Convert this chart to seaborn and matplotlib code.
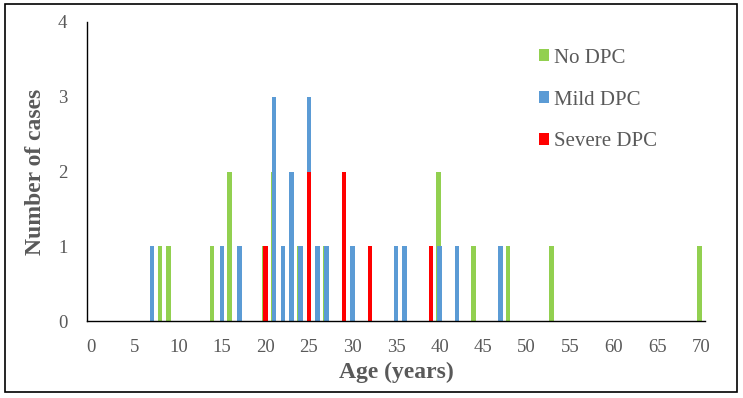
import numpy as np
import pandas as pd
import seaborn as sns
from matplotlib import pyplot as plt
from matplotlib.patches import Patch, Rectangle

# Age (years) of every case, one entry per case
no_dpc = [8, 9, 14, 16, 16, 20, 21, 21, 24, 27, 40, 40, 44, 48, 53, 70]
mild_dpc = [7, 15, 17, 21, 21, 21, 22, 23, 23, 24, 25, 25, 25, 26, 27, 30, 35, 36, 40, 42, 47]
severe_dpc = [20, 25, 25, 29, 29, 32, 39]

groups = ["No DPC", "Mild DPC", "Severe DPC"]
colors = ["#92D050", "#5B9BD5", "#FF0000"]
shift = [0.38, 0.5, 0.52]  # where the bar sits inside its one-year category
x_ticks = list(range(0, 71, 5))
y_ticks = [0, 1, 2, 3, 4]

sns.set_style("white")
plt.rcParams["font.family"] = ["Liberation Serif", "DejaVu Serif"]
text_col = "#595959"

fig = plt.figure(figsize=(7.43, 3.98), dpi=100)
ax = fig.add_axes([0.117, 0.193, 0.832, 0.752])

for ages, name, col, s in zip([no_dpc, mild_dpc, severe_dpc], groups, colors, shift):
    df = pd.DataFrame({"age": np.array(ages) + s})
    sns.histplot(data=df, x="age", discrete=True, shrink=0.52, color=col,
                 alpha=1, linewidth=0, ax=ax)

ax.set_xlim(0, 71)
ax.set_ylim(0, 4)
ax.set_yticks(y_ticks)
ax.set_yticklabels([str(v) for v in y_ticks])
# tick marks on category edges, labels in the middle of the category
ax.set_xticks(x_ticks)
ax.set_xticklabels([])
ax.set_xticks(np.array(x_ticks) + 0.5, labels=[str(v) for v in x_ticks], minor=True)
ax.tick_params(axis="x", which="minor", length=0, labelsize=13.5, labelcolor=text_col, pad=13)
ax.tick_params(axis="x", which="major", length=5, width=1, color="black", direction="out")
ax.tick_params(axis="y", length=5, width=1, color="black", direction="out",
               labelsize=13.5, labelcolor=text_col, pad=9)

sns.despine(ax=ax)
for sp in ["left", "bottom"]:
    ax.spines[sp].set_color("black")
    ax.spines[sp].set_linewidth(1)

ax.set_xlabel("Age (years)", fontsize=17, fontweight="bold", color=text_col, labelpad=4)
ax.set_ylabel("Number of cases", fontsize=17, fontweight="bold", color=text_col, labelpad=9)

handles = [Patch(facecolor=c, edgecolor="none", label=g) for c, g in zip(colors, groups)]
leg = fig.legend(handles=handles, loc="upper left", bbox_to_anchor=(0.7, 0.925),
                 frameon=False, fontsize=15, handlelength=0.5, handleheight=0.5,
                 handletextpad=0.25, labelspacing=1.1)
for t in leg.get_texts():
    t.set_color(text_col)

fig.patches.append(Rectangle((0.007, 0.015), 0.985, 0.975, transform=fig.transFigure,
                             fill=False, edgecolor="black", linewidth=1.2))

fig.savefig("out.png", dpi=100)
